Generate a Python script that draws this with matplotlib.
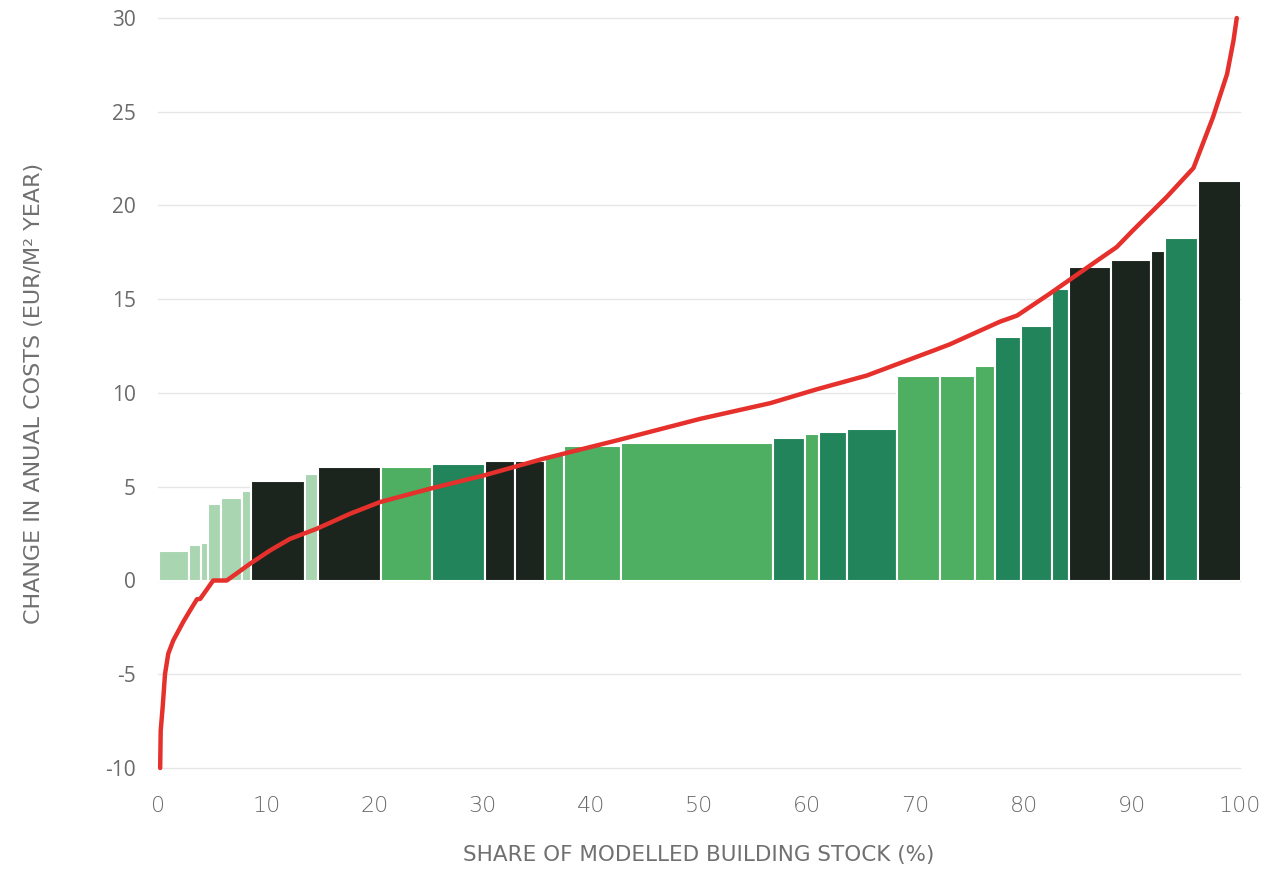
import matplotlib
matplotlib.use("Agg")
import matplotlib.pyplot as plt
import numpy as np

# ---- data ----
bar_widths = [2.8, 1.1, 0.6, 1.2, 2.0, 0.8, 5.0, 1.2, 5.8, 4.7, 4.9, 2.8, 2.8, 1.7,
              5.3, 14.0, 3.0, 1.3, 2.6, 4.6, 4.0, 3.2, 1.9, 2.4, 2.8, 1.6, 3.9, 3.7,
              1.3, 3.0, 4.1]
bar_heights = [1.6, 1.9, 2.0, 4.1, 4.4, 4.8, 5.3, 5.7, 6.05, 6.05, 6.2, 6.4, 6.4, 6.7,
               7.2, 7.35, 7.6, 7.8, 7.9, 8.1, 10.9, 10.9, 11.45, 13.0, 13.6, 15.55,
               16.7, 17.1, 17.55, 18.25, 21.3]
bar_groups = ["light", "light", "light", "light", "light", "light", "dark", "light",
              "dark", "green", "dgreen", "dark", "dark", "green", "green", "green",
              "dgreen", "green", "dgreen", "dgreen", "green", "green", "green",
              "dgreen", "dgreen", "dgreen", "dark", "dark", "dark", "dgreen", "dark"]

curve_x = [0.2, 0.25, 0.43, 0.65, 0.95, 1.41, 2.34, 2.96, 3.6, 3.9, 5.1, 6.35, 7.2,
           8.5, 10.35, 12.2, 14.67, 17.75, 20.5, 25.1, 30.1, 35.6, 42.4, 50.1, 56.6,
           60.9, 65.5, 71.7, 73.2, 77.8, 79.4, 82.4, 86.4, 88.6, 90.1, 93.2, 95.7,
           97.5, 98.8, 99.4, 99.7]
curve_y = [-10.0, -8.0, -6.76, -4.98, -3.9, -3.2, -2.2, -1.6, -1.0, -0.98, 0.0, 0.0,
           0.35, 0.89, 1.6, 2.22, 2.76, 3.56, 4.18, 4.89, 5.6, 6.49, 7.47, 8.62, 9.46,
           10.2, 10.93, 12.27, 12.6, 13.8, 14.13, 15.29, 16.9, 17.78, 18.67, 20.44,
           22.0, 24.7, 27.0, 28.8, 30.0]

x_ticks = [0, 10, 20, 30, 40, 50, 60, 70, 80, 90, 100]
y_ticks = [-10, -5, 0, 5, 10, 15, 20, 25, 30]

colors = {"light": "#a9d6b1", "green": "#4eae62", "dgreen": "#22845a", "dark": "#1b251e"}

fig = plt.figure(figsize=(12.68, 8.69), dpi=100)
ax = fig.add_axes([158 / 1268, 1 - 768 / 869, (1240 - 158) / 1268, (768 - 18) / 869])

lefts = np.concatenate([[0.1], 0.1 + np.cumsum(bar_widths)[:-1]])
ax.bar(lefts, bar_heights, width=bar_widths, align="edge",
       color=[colors[g] for g in bar_groups], edgecolor="white", linewidth=1.5, zorder=2)

ax.plot(curve_x, curve_y, color="#e5302c", linewidth=3.2, zorder=3, clip_on=False,
        solid_capstyle="round", solid_joinstyle="round")

ax.set_xlim(0, 100)
ax.set_ylim(-10, 30)
ax.set_xticks(x_ticks)
ax.set_yticks(y_ticks)
ax.set_xticklabels([str(t) for t in x_ticks], fontsize=16, color="#6a6a6a",
                   family="DejaVu Sans", fontweight="light")
ax.set_yticklabels([str(t) for t in y_ticks], fontsize=15, color="#6a6a6a", family="Open Sans")
ax.tick_params(axis="both", length=0)
ax.tick_params(axis="x", pad=20)
ax.tick_params(axis="y", pad=16)
ax.grid(axis="y", color="#e6e6e6", linewidth=1.0, zorder=0)
for gl in ax.get_ygridlines():
    gl.set_clip_on(False)
ax.set_axisbelow(True)
for s in ax.spines.values():
    s.set_visible(False)

ax.set_xlabel("SHARE OF MODELLED BUILDING STOCK (%)", fontsize=15.5, color="#707070",
              family="DejaVu Sans", labelpad=21)
ax.set_ylabel("CHANGE IN ANUAL COSTS (EUR/M² YEAR)", fontsize=16, color="#707070",
              family="DejaVu Sans", labelpad=44)

fig.savefig("out.png", dpi=100, facecolor="white")
